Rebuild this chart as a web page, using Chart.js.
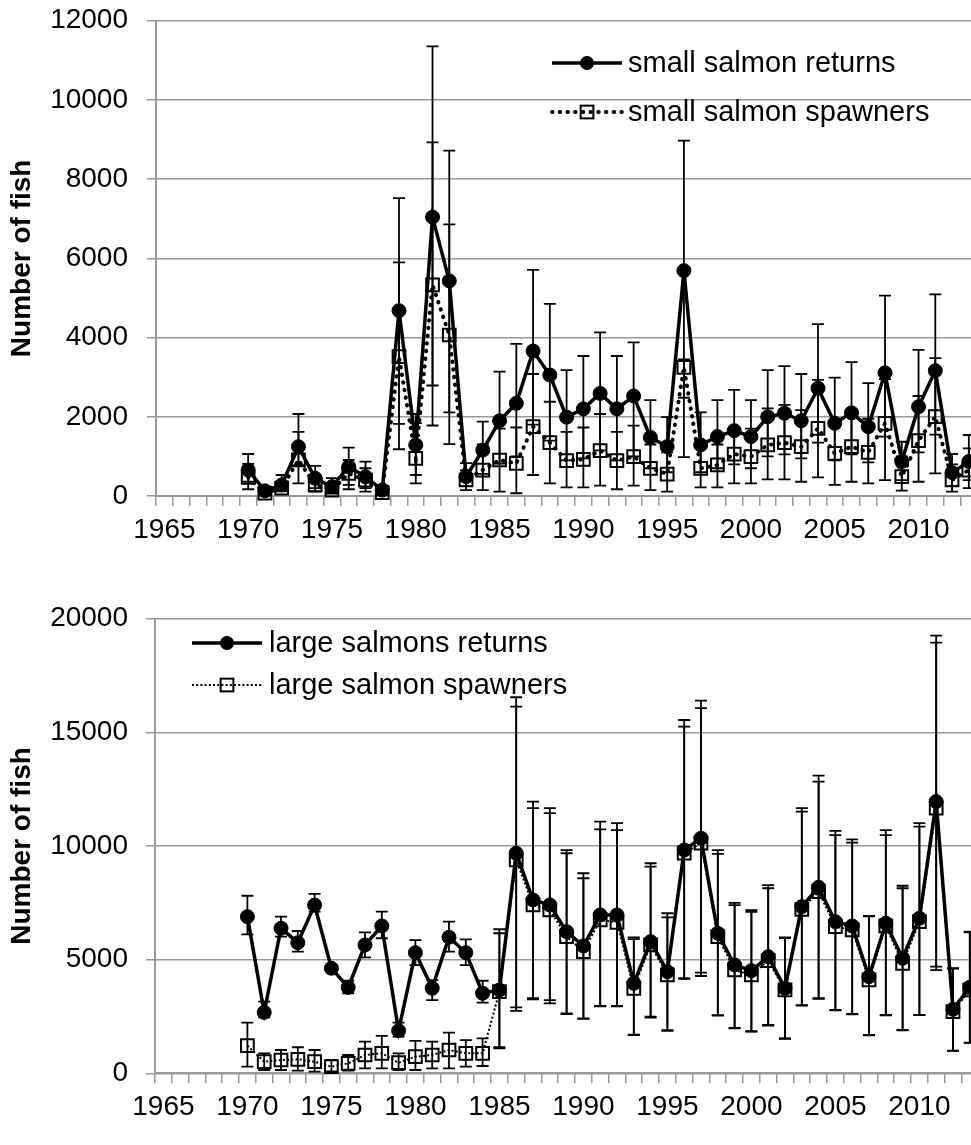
<!DOCTYPE html>
<html>
<head>
<meta charset="utf-8">
<title>Salmon returns and spawners</title>
<script src="https://cdn.jsdelivr.net/npm/chart.js@4.4.1/dist/chart.umd.min.js"></script>
<style>
  html, body { margin: 0; padding: 0; background: #fff; overflow: hidden; width: 971px; height: 1145px; }
  .panel { position: absolute; left: 0; }
  canvas { display: block; }
</style>
</head>
<body>
<div class="panel" style="top:0px"><canvas id="smallChart" width="1000" height="575"></canvas></div>
<div class="panel" style="top:575px"><canvas id="largeChart" width="1000" height="570"></canvas></div>
<script>
// Return years
const years = [
  '1965','1966','1967','1968','1969','1970','1971','1972','1973','1974',
  '1975','1976','1977','1978','1979','1980','1981','1982','1983','1984',
  '1985','1986','1987','1988','1989','1990','1991','1992','1993','1994',
  '1995','1996','1997','1998','1999','2000','2001','2002','2003','2004',
  '2005','2006','2007','2008','2009','2010','2011','2012','2013'
];

// Small salmon (1965-1969 no data)
const smallReturns = [null,null,null,null,null,
  656,130,280,1245,446,235,740,487,150,4680,
  1290,7040,5430,487,1160,1900,2340,3660,3055,1990,
  2200,2590,2200,2525,1480,1245,5690,1290,1500,1650,
  1500,2000,2090,1900,2720,1835,2100,1750,3110,870,
  2255,3165,590,870];
const smallReturnsLow = [null,null,null,null,null,
  360,60,150,780,200,100,280,200,60,1820,
  530,2790,2110,250,560,820,1000,1800,1400,900,
  950,1150,900,1000,700,600,2480,600,700,800,
  700,1000,1050,950,1350,900,1050,850,1500,400,
  1100,1550,250,400];
const smallReturnsHigh = [null,null,null,null,null,
  1060,230,530,2070,760,450,1220,870,260,7520,
  2070,11350,8720,830,1880,3140,3840,5710,4850,3180,
  3535,4130,3535,3880,2420,1990,8970,2110,2420,2680,
  2420,3180,3280,3080,4340,2990,3380,2850,5060,1370,
  3690,5090,1060,1540];
const smallSpawners = [null,null,null,null,null,
  470,70,200,910,280,150,570,400,85,3520,
  950,5330,4065,404,656,909,825,1750,1346,892,
  927,1144,892,993,699,555,3250,699,783,1060,
  993,1288,1346,1245,1709,1077,1245,1103,1835,487,
  1396,2003,404,656];
const smallSpawnersLow = [null,null,null,null,null,
  170,30,120,320,110,60,170,110,30,1180,
  320,1780,1310,150,150,110,70,530,320,220,
  220,260,170,260,150,110,980,220,220,320,
  320,420,420,360,470,280,360,320,400,134,
  360,570,110,200];
const smallSpawnersHigh = [null,null,null,null,null,
  810,150,300,1620,500,300,910,700,180,5900,
  1840,8930,6860,650,1300,1700,1730,3080,2380,1620,
  1730,2070,1620,1775,1300,1100,3450,1200,1300,1730,
  1700,2210,2300,2170,2930,1900,2150,1950,2950,1000,
  2525,3480,800,1200];

// Large salmon (1965-1969 no data)
const largeReturns = [null,null,null,null,null,
  6890,2680,6380,5745,7400,4620,3780,5645,6480,1875,
  5305,3740,5985,5305,3520,3665,9680,7625,7405,6230,
  5600,6965,6965,3960,5790,4470,9825,10340,6160,4765,
  4515,5130,3740,7330,8180,6670,6480,4250,6600,5060,
  6820,11950,2815,3785];
const largeReturnsLow = [null,null,null,null,null,
  6110,2460,6010,5350,7110,4500,3520,5100,5940,1610,
  4760,3220,5350,4760,3110,1150,2900,3300,3220,2640,
  2420,2960,2960,1700,2490,1900,4180,4430,2560,2000,
  1850,2125,1540,3000,3300,2790,2610,1685,2565,1905,
  2570,4690,1000,1350];
const largeReturnsHigh = [null,null,null,null,null,
  7810,3150,6890,6260,7890,4750,4070,6200,7110,2230,
  5860,4100,6670,5890,4070,6160,16540,11950,11660,9820,
  8800,11070,11000,5980,9240,7040,15540,16390,9820,7500,
  7180,8280,5980,11660,13090,10660,10290,6920,10700,8250,
  11000,19250,4620,6230];
const largeSpawners = [null,null,null,null,null,
  1215,510,585,615,510,290,440,805,880,465,
  730,805,1025,880,880,3590,9385,7405,7185,6010,
  5350,6745,6640,3740,5645,4325,9680,10120,6010,4545,
  4325,4955,3665,7215,7990,6450,6305,4105,6480,4840,
  6670,11660,2710,3665];
const largeSpawnersLow = [null,null,null,null,null,
  290,145,145,115,70,80,115,220,220,145,
  145,220,220,290,320,1100,2750,3250,3080,2600,
  2390,2950,2950,1685,2450,1870,4150,4280,2540,1980,
  1830,2100,1520,2980,3280,2770,2590,1670,2550,1890,
  2560,4540,990,1340];
const largeSpawnersHigh = [null,null,null,null,null,
  2230,880,1025,1145,1025,585,805,1390,1650,880,
  1430,1390,1790,1460,1540,6335,16130,11660,11440,9680,
  8580,10730,10700,5900,9090,6860,15250,16060,9650,7400,
  7100,8140,5950,11510,12830,10480,10145,6900,10480,8140,
  10850,18940,4600,6200];

const smallTicks = { min: 0, max: 12000, step: 2000 };
const largeTicks = { min: 0, max: 20000, step: 5000 };

const FONT = '"Liberation Sans", Arial, Helvetica, sans-serif';
const GRID = '#9a9a9a';

// Vertical error bars with caps, drawn under the markers
const errorBars = {
  id: 'errorBars',
  beforeDatasetsDraw(chart, args, opts) {
    const { ctx, scales: { x, y } } = chart;
    ctx.save();
    ctx.strokeStyle = opts.color;
    ctx.lineWidth = opts.width;
    ctx.setLineDash([]);
    chart.data.datasets.forEach((ds) => {
      if (!ds.errLow) return;
      ds.data.forEach((v, i) => {
        if (v == null) return;
        const px = x.getPixelForValue(i);
        const lo = y.getPixelForValue(ds.errLow[i]);
        const hi = y.getPixelForValue(ds.errHigh[i]);
        ctx.beginPath();
        ctx.moveTo(px, lo); ctx.lineTo(px, hi);
        ctx.moveTo(px - opts.cap, lo); ctx.lineTo(px + opts.cap, lo);
        ctx.moveTo(px - opts.cap, hi); ctx.lineTo(px + opts.cap, hi);
        ctx.stroke();
      });
    });
    ctx.restore();
  }
};

// Legend rows: line sample with marker in the middle, then the label
const sampleLegend = {
  id: 'sampleLegend',
  afterDraw(chart, args, opts) {
    const ctx = chart.ctx;
    ctx.save();
    chart.data.datasets.forEach((ds, k) => {
      const y = opts.rows[k];
      ctx.beginPath();
      ctx.setLineDash(ds.borderDash || []);
      ctx.lineCap = ds.borderCapStyle || 'butt';
      ctx.lineWidth = ds.borderWidth;
      ctx.strokeStyle = ds.borderColor;
      ctx.moveTo(opts.x0, y);
      ctx.lineTo(opts.x1, y);
      ctx.stroke();
      ctx.setLineDash([]);
      const cx = (opts.x0 + opts.x1) / 2;
      if (ds.pointStyle === 'rect') {
        const s = ds.pointRadius * Math.SQRT1_2;
        ctx.lineWidth = ds.pointBorderWidth;
        ctx.strokeStyle = ds.pointBorderColor;
        ctx.strokeRect(cx - s, y - s, 2 * s, 2 * s);
      } else {
        ctx.beginPath();
        ctx.arc(cx, y, ds.pointRadius, 0, Math.PI * 2);
        ctx.fillStyle = ds.pointBackgroundColor;
        ctx.fill();
      }
      ctx.fillStyle = '#000';
      ctx.font = opts.fontSize + 'px ' + FONT;
      ctx.textBaseline = 'middle';
      ctx.textAlign = 'left';
      ctx.fillText(ds.label, opts.textX, y + 1);
    });
    ctx.restore();
  }
};

function returnsSet(label, data, lo, hi) {
  return {
    label, data, errLow: lo, errHigh: hi,
    borderColor: '#000', borderWidth: 3.5, tension: 0,
    pointStyle: 'circle', pointRadius: 7, pointBorderWidth: 1,
    pointBackgroundColor: '#000', pointBorderColor: '#000',
    clip: false
  };
}

function spawnersSet(label, data, lo, hi, dash, width, cap) {
  return {
    label, data, errLow: lo, errHigh: hi,
    borderColor: '#000', borderWidth: width, borderDash: dash, borderCapStyle: cap,
    tension: 0,
    pointStyle: 'rect', pointRadius: 9, pointBorderWidth: 2,
    pointBackgroundColor: 'rgba(0,0,0,0)', pointBorderColor: '#000',
    clip: false
  };
}

function buildChart(canvasId, datasets, ticks, frame, legend) {
  return new Chart(document.getElementById(canvasId), {
    type: 'line',
    data: { labels: years, datasets },
    plugins: [errorBars, sampleLegend],
    options: {
      responsive: false,
      animation: false,
      events: [],
      devicePixelRatio: 1,
      layout: { padding: { left: 0, top: frame.top, right: frame.right, bottom: 0 } },
      plugins: {
        legend: { display: false },
        tooltip: { enabled: false },
        errorBars: { color: '#000', width: 1.8, cap: 6 },
        sampleLegend: legend
      },
      scales: {
        x: {
          type: 'category',
          offset: true,
          grid: { offset: true, drawOnChartArea: false, color: GRID, lineWidth: 1.5, tickLength: 10 },
          border: { color: GRID, width: 2 },
          ticks: {
            autoSkip: false, maxRotation: 0, minRotation: 0,
            color: '#000', font: { family: FONT, size: 28 }, padding: 7,
            callback(value, index) {
              const yr = Number(years[index]);
              return yr % 5 === 0 ? years[index] : '';
            }
          },
          afterFit(scale) {
            scale.height = frame.xHeight;
            scale.paddingLeft = 0;
            scale.paddingRight = 0;
          }
        },
        y: {
          min: ticks.min, max: ticks.max,
          grid: { color: GRID, lineWidth: 1.5, tickLength: 9 },
          border: { color: GRID, width: 2 },
          ticks: {
            stepSize: ticks.step, color: '#000', font: { family: FONT, size: 28 },
            padding: frame.tickPad,
            callback(v) { return String(v); }
          },
          title: {
            display: true, text: 'Number of fish', color: '#000',
            font: { family: FONT, size: 28, weight: 'bold' },
            padding: { top: 5, bottom: 0 }
          },
          afterFit(scale) {
            scale.width = frame.yWidth;
            scale.paddingTop = 0;
            scale.paddingBottom = 0;
          }
        }
      }
    }
  });
}

buildChart('smallChart',
  [
    returnsSet('small salmon returns', smallReturns, smallReturnsLow, smallReturnsHigh),
    spawnersSet('small salmon spawners', smallSpawners, smallSpawnersLow, smallSpawnersHigh, [0.5, 7.2], 4, 'round')
  ],
  smallTicks,
  { top: 20.7, right: 22.8, xHeight: 79, yWidth: 156, tickPad: 19 },
  { x0: 552, x1: 622, textX: 628, rows: [63, 112], fontSize: 29 }
);

buildChart('largeChart',
  [
    returnsSet('large salmons returns', largeReturns, largeReturnsLow, largeReturnsHigh),
    spawnersSet('large salmon spawners', largeSpawners, largeSpawnersLow, largeSpawnersHigh, [2, 2.2], 2, 'butt')
  ],
  largeTicks,
  { top: 43.6, right: 21.8, xHeight: 71.7, yWidth: 155, tickPad: 18 },
  { x0: 192, x1: 262, textX: 269, rows: [68, 110], fontSize: 29 }
);
</script>
</body>
</html>
